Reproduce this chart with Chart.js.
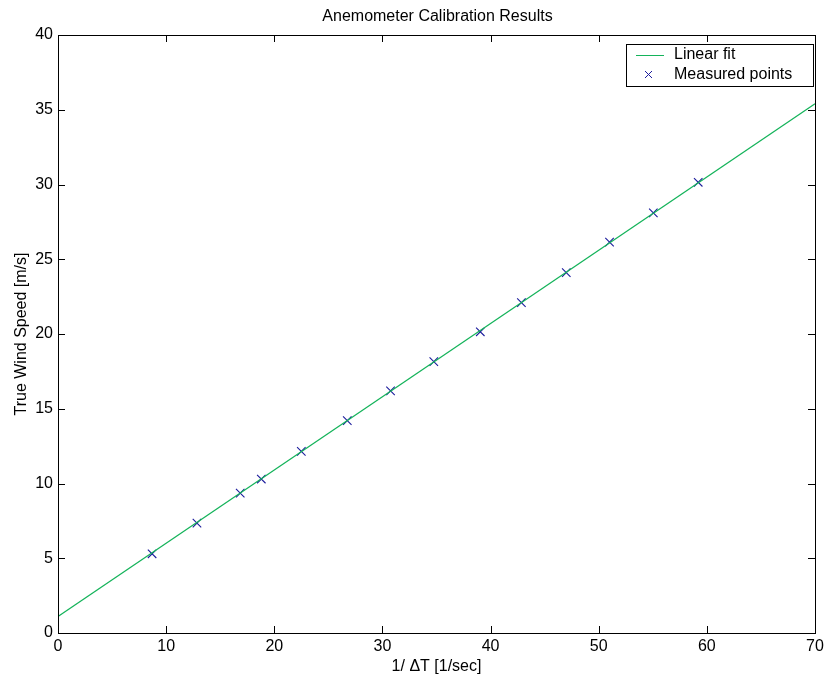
<!DOCTYPE html>
<html>
<head>
<meta charset="utf-8">
<script src="https://cdn.jsdelivr.net/npm/chart.js@4.4.0/dist/chart.umd.min.js"></script>
<style>
  html, body { margin: 0; padding: 0; background: #fff; }
  #wrap { width: 826px; height: 680px; }
</style>
</head>
<body>
<div id="wrap"><canvas id="chart" width="826" height="680"></canvas></div>
<script>
// measured calibration points
const measuredX = [8.7, 12.85, 16.85, 18.8, 22.5, 26.75, 30.75, 34.75, 39.05, 42.85, 47.0, 51.0, 55.05, 59.2];
const measuredY = [5.3, 7.35, 9.35, 10.3, 12.15, 14.2, 16.2, 18.15, 20.15, 22.1, 24.1, 26.15, 28.1, 30.15];

// linear fit end points
const fitX = [0, 70];
const fitY = [1.1, 35.4];

const titleText = "Anemometer Calibration Results";
const xLabel = "1/ \u0394T [1/sec]";
const yLabel = "True Wind Speed [m/s]";
const legendLabels = ["Linear fit", "Measured points"];

const FONT = "'Liberation Sans', Arial, Helvetica, sans-serif";
const lineColor = "#14b35a";
const markColor = "#1c1c9c";

// box, inward ticks, title and legend (MATLAB style)
const matlabBox = {
    id: "matlabBox",
    afterDraw(chart) {
        const ctx = chart.ctx;
        const a = chart.chartArea;
        const xs = chart.scales.x, ys = chart.scales.y;
        ctx.save();
        ctx.strokeStyle = "#000";
        ctx.lineWidth = 1;
        ctx.strokeRect(a.left + 0.5, a.top + 0.5, a.right - a.left, a.bottom - a.top);

        const tl = 7;
        ctx.beginPath();
        xs.ticks.forEach(t => {
            const px = Math.round(xs.getPixelForValue(t.value)) + 0.5;
            ctx.moveTo(px, a.bottom); ctx.lineTo(px, a.bottom - tl);
            ctx.moveTo(px, a.top); ctx.lineTo(px, a.top + tl);
        });
        ys.ticks.forEach(t => {
            const py = Math.round(ys.getPixelForValue(t.value)) + 0.5;
            ctx.moveTo(a.left, py); ctx.lineTo(a.left + tl, py);
            ctx.moveTo(a.right, py); ctx.lineTo(a.right - tl, py);
        });
        ctx.stroke();

        // title
        ctx.fillStyle = "#000";
        ctx.font = "16px " + FONT;
        ctx.textAlign = "center";
        ctx.textBaseline = "middle";
        ctx.fillText(titleText, (a.left + a.right) / 2 + 1, 17);

        // legend
        const bx = 626, by = 44, bw = 187, bh = 42;
        ctx.fillStyle = "#fff";
        ctx.fillRect(bx, by, bw, bh);
        ctx.strokeRect(bx + 0.5, by + 0.5, bw, bh);
        ctx.strokeStyle = lineColor;
        ctx.beginPath();
        ctx.moveTo(636, 55.5); ctx.lineTo(664, 55.5);
        ctx.stroke();
        ctx.strokeStyle = markColor;
        ctx.beginPath();
        ctx.moveTo(645, 71); ctx.lineTo(652, 78);
        ctx.moveTo(652, 71); ctx.lineTo(645, 78);
        ctx.stroke();
        ctx.fillStyle = "#000";
        ctx.font = "16px " + FONT;
        ctx.textAlign = "left";
        ctx.fillText(legendLabels[0], 674, 55);
        ctx.fillText(legendLabels[1], 674, 75);
        ctx.restore();
    }
};

const fitData = fitX.map((x, i) => ({ x: x, y: fitY[i] }));
const pointData = measuredX.map((x, i) => ({ x: x, y: measuredY[i] }));

new Chart(document.getElementById("chart"), {
    type: "scatter",
    data: {
        datasets: [{
            label: legendLabels[0],
            data: fitData,
            showLine: true,
            borderColor: lineColor,
            borderWidth: 1.2,
            pointRadius: 0
        }, {
            label: legendLabels[1],
            data: pointData,
            pointStyle: "crossRot",
            pointRadius: 6,
            borderColor: markColor,
            borderWidth: 1.1,
            backgroundColor: markColor
        }]
    },
    options: {
        responsive: false,
        animation: false,
        layout: { padding: { top: 35, right: 11, left: 0, bottom: 0 } },
        plugins: {
            legend: { display: false },
            title: { display: false },
            tooltip: { enabled: false }
        },
        scales: {
            x: {
                type: "linear",
                min: 0, max: 70,
                afterFit(s) { s.height = 47; s.paddingLeft = 0; s.paddingRight = 0; },
                grid: { display: false, drawTicks: false },
                border: { display: false },
                ticks: { stepSize: 10, padding: 4, color: "#000", font: { family: FONT, size: 16 }, maxRotation: 0 },
                title: { display: true, text: xLabel, color: "#000", font: { family: FONT, size: 16 }, padding: { top: 0, bottom: 4 } }
            },
            y: {
                type: "linear",
                min: 0, max: 40,
                afterFit(s) { s.width = 58; s.paddingTop = 0; s.paddingBottom = 0; },
                grid: { display: false, drawTicks: false },
                border: { display: false },
                ticks: { stepSize: 5, padding: 5, color: "#000", font: { family: FONT, size: 16 } },
                title: { display: true, text: yLabel, color: "#000", font: { family: FONT, size: 16 }, padding: { top: 12, bottom: 0 } }
            }
        }
    },
    plugins: [matlabBox]
});
</script>
</body>
</html>
